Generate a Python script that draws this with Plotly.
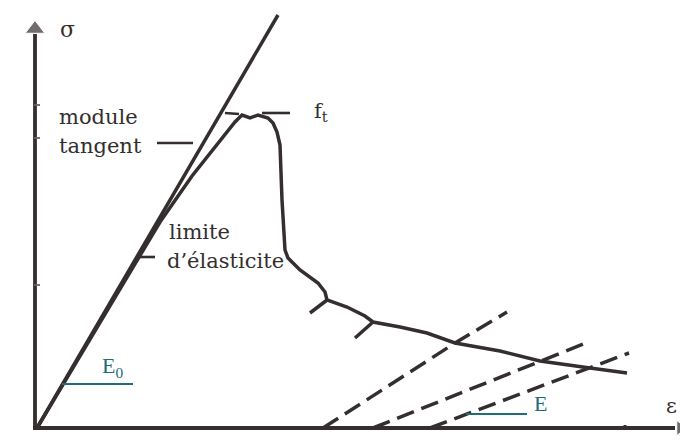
"""
Schematic stress-strain curve of concrete in tension
(module tangent, limite d'elasticite, f_t, unloading moduli E0 / E).
"""

import plotly.graph_objects as go

# ---- data (strain eps, stress sig, arbitrary units) ----
# envelope curve
eps_curve = [0.0, 0.63, 1.23, 1.55, 1.80, 1.98, 2.05, 2.13, 2.21, 2.31, 2.36, 2.40,
             2.43, 2.45, 2.48, 2.51, 2.63, 2.81, 2.88, 2.90, 3.10, 3.28, 3.36,
             3.63, 3.90, 4.18, 4.63, 5.03, 5.53, 5.90]
sig_curve = [0.0, 1.06, 2.06, 2.52, 2.83, 3.06, 3.13, 3.10, 3.13, 3.10, 3.05, 2.96,
             2.83, 2.28, 1.78, 1.70, 1.58, 1.45, 1.36, 1.28, 1.21, 1.12, 1.06,
             1.01, 0.95, 0.85, 0.77, 0.67, 0.60, 0.55]

# initial tangent modulus E0
eps_tangent = [0.0, 2.41]
sig_tangent = [0.0, 4.13]

# short crack branches on the softening part
eps_branch1 = [2.90, 2.73]
sig_branch1 = [1.28, 1.15]
eps_branch2 = [3.36, 3.18]
sig_branch2 = [1.06, 0.90]

# unloading / reloading lines (modulus E)
eps_unload1 = [2.86, 4.18, 4.70]
sig_unload1 = [0.0, 0.85, 1.16]
eps_unload2 = [3.36, 5.49]
sig_unload2 = [0.0, 0.85]
eps_unload3 = [3.93, 5.92]
sig_unload3 = [0.0, 0.75]

# leader lines for the labels
eps_lead_tangent = [1.20, 1.56]
sig_lead_tangent = [2.85, 2.85]
eps_lead_elastic = [1.01, 1.18]
sig_lead_elastic = [1.71, 1.71]
eps_lead_ft = [2.25, 2.53]
sig_lead_ft = [3.15, 3.15]
eps_peak_stub = [1.88, 2.02]
sig_peak_stub = [3.15, 3.14]
eps_under_E0 = [0.25, 0.96]
sig_under_E0 = [0.44, 0.44]
eps_under_E = [4.29, 4.90]
sig_under_E = [0.14, 0.14]

# small marks on the sigma axis
sig_axis_marks = [3.23, 2.90, 1.43]
eps_axis_mark = 5.88

# axis extents
eps_axis_x = -0.02
eps_max = 6.43
sig_max = 3.99

INK = '#342e2e'
TEAL = '#1f6d77'

fig = go.Figure()


def add_line(x, y, color=INK, width=3.5, dash='solid'):
    """Add a plain line trace."""
    fig.add_trace(go.Scatter(
        x=x, y=y,
        mode='lines',
        line=dict(color=color, width=width, dash=dash),
        hoverinfo='skip',
        showlegend=False
    ))


# axes with arrows
add_line([eps_axis_x, eps_axis_x], [-0.02, sig_max - 0.05], width=3.8)
add_line([eps_axis_x - 0.02, eps_max - 0.05], [0.0, 0.0], width=3.8)
fig.add_trace(go.Scatter(
    x=[eps_axis_x, eps_max], y=[sig_max, 0.0],
    mode='markers',
    marker=dict(symbol=['triangle-up', 'triangle-right'], size=[17, 13], color=INK),
    hoverinfo='skip', showlegend=False
))
for s in sig_axis_marks:
    add_line([eps_axis_x - 0.01, eps_axis_x + 0.05], [s, s], color='#6a6262', width=1.8)
add_line([eps_axis_mark, eps_axis_mark], [-0.02, 0.03], width=3)

# curve, tangent and branches
add_line(eps_tangent, sig_tangent)
add_line(eps_curve, sig_curve)
add_line(eps_branch1, sig_branch1)
add_line(eps_branch2, sig_branch2)

# unloading lines
for ex, sy in [(eps_unload1, sig_unload1), (eps_unload2, sig_unload2),
               (eps_unload3, sig_unload3)]:
    add_line(ex, sy, dash='18px,8px')

# leader lines
add_line(eps_lead_tangent, sig_lead_tangent, width=2.6)
add_line(eps_lead_elastic, sig_lead_elastic, width=2.6)
add_line(eps_lead_ft, sig_lead_ft, width=2.6)
add_line(eps_peak_stub, sig_peak_stub, width=2.6)
add_line(eps_under_E0, sig_under_E0, color=TEAL, width=2)
add_line(eps_under_E, sig_under_E, color=TEAL, width=2)

# labels
serif = 'DejaVu Serif'
labels = [
    ('module', 0.20, 3.11, 'left', serif, 21, INK),
    ('tangent', 0.20, 2.82, 'left', serif, 21, INK),
    ('limite', 1.30, 1.96, 'left', serif, 21, INK),
    ('d’élasticite', 1.28, 1.67, 'left', serif, 21, INK),
    ('f<sub>t</sub>', 2.75, 3.16, 'left', serif, 21, INK),
    ('σ', 0.30, 3.99, 'center', serif, 22, INK),
    ('ε', 6.34, 0.22, 'center', serif, 21, INK),
    ('E<sub>0</sub>', 0.75, 0.61, 'center', 'Liberation Serif', 22, TEAL),
    ('E', 5.03, 0.25, 'center', 'Liberation Serif', 22, TEAL),
]
for text, x, y, anchor, family, size, color in labels:
    fig.add_annotation(
        x=x, y=y, text=text,
        xanchor=anchor, yanchor='middle',
        showarrow=False,
        font=dict(family=family, size=size, color=color)
    )

# the page body adds an 8px offset, so the ranges are shifted to compensate
fig.update_layout(
    width=688,
    height=441,
    autosize=False,
    margin=dict(l=0, r=0, t=0, b=0),
    paper_bgcolor='white',
    plot_bgcolor='white',
    xaxis=dict(range=[-0.29, 6.59], visible=False, fixedrange=True),
    yaxis=dict(range=[-0.21, 4.20], visible=False, fixedrange=True),
    showlegend=False
)

fig.write_html("out.html")
